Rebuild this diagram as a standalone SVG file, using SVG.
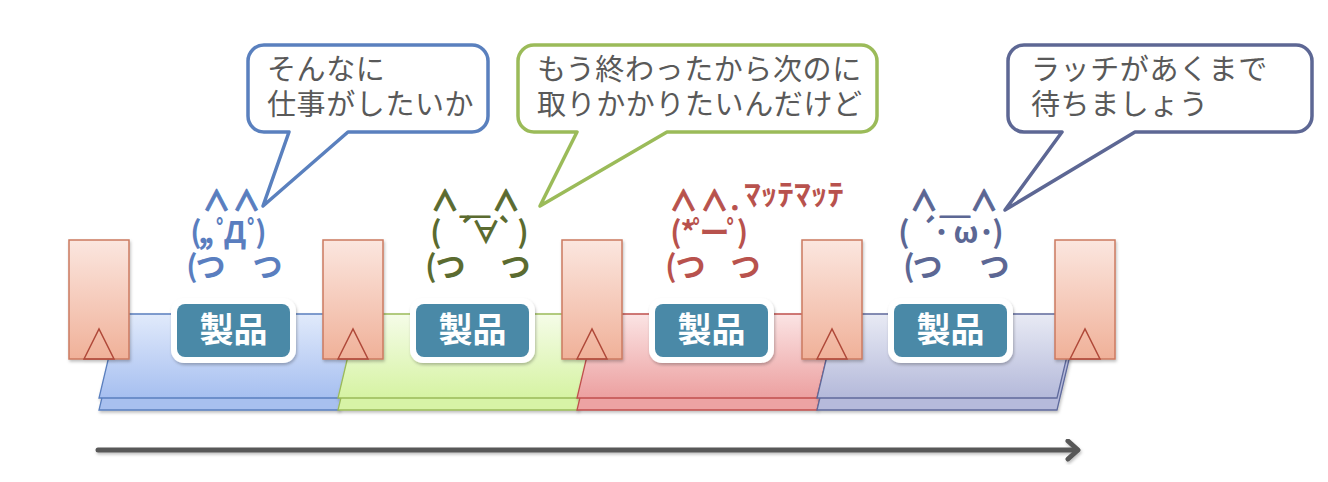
<svg xmlns="http://www.w3.org/2000/svg" width="1328" height="482" viewBox="0 0 1328 482">
<style>
.bubble{fill:#fff;stroke-width:3.5;stroke-linejoin:round}
.btxt{font-family:"Noto Sans CJK JP","Liberation Sans",sans-serif;font-size:29px;fill:#595959;letter-spacing:0.6px}
.kao{font-family:"Noto Sans CJK JP","Liberation Sans",sans-serif;font-size:30px;font-weight:bold;text-anchor:middle}
.ears{font-size:28px;stroke-width:1;stroke-linejoin:round}
.us{font-size:30px}
.latch{stroke:#cc7a60;stroke-width:1.5;fill:url(#gLatch)}
.tri{fill:none;stroke:#b04a3a;stroke-width:1.5}
.prodO{fill:#fff}
.prodI{fill:#4a89a7}
.ptxt{font-family:"Noto Sans CJK JP","Liberation Sans",sans-serif;font-size:34px;font-weight:bold;fill:#fff;text-anchor:middle}
</style>
<defs>
<linearGradient id="gLatch" x1="0" y1="0" x2="0" y2="1"><stop offset="0" stop-color="#fbe6df"/><stop offset="1" stop-color="#f0b199"/></linearGradient>
<linearGradient id="gB" x1="0" y1="0" x2="0" y2="1"><stop offset="0" stop-color="#e1eafb"/><stop offset="1" stop-color="#a6bff0"/></linearGradient>
<linearGradient id="gG" x1="0" y1="0" x2="0" y2="1"><stop offset="0" stop-color="#f5fce8"/><stop offset="1" stop-color="#d6f3a3"/></linearGradient>
<linearGradient id="gR" x1="0" y1="0" x2="0" y2="1"><stop offset="0" stop-color="#fbe4e4"/><stop offset="1" stop-color="#eca0a0"/></linearGradient>
<linearGradient id="gP" x1="0" y1="0" x2="0" y2="1"><stop offset="0" stop-color="#e8eaf4"/><stop offset="1" stop-color="#b4b9da"/></linearGradient>
<filter id="sh" x="-10%" y="-10%" width="130%" height="140%"><feDropShadow dx="1" dy="2" stdDeviation="1.5" flood-color="#000" flood-opacity="0.25"/></filter>
</defs>
<rect width="1328" height="482" fill="#fff"/>

<g id="stage1" filter="url(#sh)">
<polygon points="119,326 359,326 339,410 99,410" fill="#a8c0ef" stroke="#5a7fbe" stroke-width="1.3"/>
<polygon points="119,314 359,314 339,398 99,398" fill="url(#gB)" stroke="#5a7fbe" stroke-width="1.3"/>
</g>
<g id="stage2" filter="url(#sh)">
<polygon points="358,326 598,326 578,410 338,410" fill="#d7f3a6" stroke="#9bbb59" stroke-width="1.3"/>
<polygon points="358,314 598,314 578,398 338,398" fill="url(#gG)" stroke="#9bbb59" stroke-width="1.3"/>
</g>
<g id="stage3" filter="url(#sh)">
<polygon points="597,326 837,326 817,410 577,410" fill="#eda3a3" stroke="#c0504d" stroke-width="1.3"/>
<polygon points="597,314 837,314 817,398 577,398" fill="url(#gR)" stroke="#c0504d" stroke-width="1.3"/>
</g>
<g id="stage4" filter="url(#sh)">
<polygon points="837,326 1077,326 1057,410 817,410" fill="#b6badb" stroke="#5f6a9c" stroke-width="1.3"/>
<polygon points="837,314 1077,314 1057,398 817,398" fill="url(#gP)" stroke="#5f6a9c" stroke-width="1.3"/>
</g>

<g id="latch1" filter="url(#sh)"><rect class="latch" x="69" y="240" width="60" height="119"/><polygon class="tri" points="84,359 99,329 114,359"/></g>
<g id="latch2" filter="url(#sh)"><rect class="latch" x="323" y="240" width="60" height="119"/><polygon class="tri" points="338,359 353,329 368,359"/></g>
<g id="latch3" filter="url(#sh)"><rect class="latch" x="562" y="240" width="60" height="119"/><polygon class="tri" points="577,359 592,329 607,359"/></g>
<g id="latch4" filter="url(#sh)"><rect class="latch" x="802" y="240" width="60" height="119"/><polygon class="tri" points="817,359 832,329 847,359"/></g>
<g id="latch5" filter="url(#sh)"><rect class="latch" x="1055" y="240" width="60" height="119"/><polygon class="tri" points="1070,359 1085,329 1100,359"/></g>

<g id="product1"><rect class="prodO" x="171" y="298" width="125" height="65" rx="13" filter="url(#sh)"/><rect class="prodI" x="177" y="304" width="113" height="53" rx="8"/><text class="ptxt" x="233.5" y="342">製品</text></g>
<g id="product2"><rect class="prodO" x="410" y="298" width="125" height="65" rx="13" filter="url(#sh)"/><rect class="prodI" x="416" y="304" width="113" height="53" rx="8"/><text class="ptxt" x="472.5" y="342">製品</text></g>
<g id="product3"><rect class="prodO" x="649" y="298" width="125" height="65" rx="13" filter="url(#sh)"/><rect class="prodI" x="655" y="304" width="113" height="53" rx="8"/><text class="ptxt" x="711.5" y="342">製品</text></g>
<g id="product4"><rect class="prodO" x="888" y="298" width="125" height="65" rx="13" filter="url(#sh)"/><rect class="prodI" x="894" y="304" width="113" height="53" rx="8"/><text class="ptxt" x="950.5" y="342">製品</text></g>

<g id="kao1" class="kao" fill="#5a7ebf">
<text class="ears" stroke="#5a7ebf" x="216.5 246.5" y="211">∧∧</text>
<text x="196 203 209 223.5 235 254.5 261" y="243">(,,ﾟДﾟ)</text>
<text x="192 210.5 240 267.5" y="277">(つ　つ</text>
</g>
<g id="kao2" class="kao" fill="#5b6b30">
<text class="ears" stroke="#5b6b30" x="445" y="211">∧<tspan class="us" x="475" y="213">＿</tspan><tspan x="506" y="211">∧</tspan></text>
<text x="436 450 465 486 506 523" y="243">(　´∀`)</text>
<text x="431 450.5 483 515.5" y="277">(つ　つ</text>
</g>
<g id="kao3" class="kao" fill="#b8524d">
<text class="ears" stroke="#b8524d" x="683.5 714.5" y="211">∧∧<tspan x="735" y="210" style="font-size:24px">.</tspan></text>
<text x="744" y="205" font-size="30" font-weight="bold" text-anchor="start" textLength="100" lengthAdjust="spacingAndGlyphs">ﾏｯﾃﾏｯﾃ</text>
<text x="676 688 700 714.5 734 742.5" y="243">(*ﾟーﾟ)</text>
<text x="671 690.5 718 745.5" y="277">(つ　つ</text>
</g>
<g id="kao4" class="kao" fill="#5c6794">
<text class="ears" stroke="#5c6794" x="924" y="211">∧<tspan class="us" x="955" y="213">＿</tspan><tspan x="984" y="211">∧</tspan></text>
<text x="904 915 928.5 941.5 966 986.5 998" y="243">(　´･ω･)</text>
<text x="909 927.5 961 994.5" y="277">(つ　つ</text>
</g>

<g id="bubble1">
<path class="bubble" stroke="#5a80be" d="M264,45 H472 A16,16 0 0 1 488,61 V116 A16,16 0 0 1 472,132 H348 L263,206 L289,132 H264 A16,16 0 0 1 248,116 V61 A16,16 0 0 1 264,45 Z"/>
<text class="btxt" x="267" y="80">そんなに</text>
<text class="btxt" x="267" y="115">仕事がしたいか</text>
</g>
<g id="bubble2">
<path class="bubble" stroke="#9bbb59" d="M534,45 H861 A16,16 0 0 1 877,61 V116 A16,16 0 0 1 861,132 H667 L540,206 L577,132 H534 A16,16 0 0 1 518,116 V61 A16,16 0 0 1 534,45 Z"/>
<text class="btxt" x="537" y="80">もう終わったから次のに</text>
<text class="btxt" x="537" y="115">取りかかりたいんだけど</text>
</g>
<g id="bubble3">
<path class="bubble" stroke="#5d6794" d="M1024,45 H1296 A16,16 0 0 1 1312,61 V116 A16,16 0 0 1 1296,132 H1135 L1005,210 L1062,132 H1024 A16,16 0 0 1 1008,116 V61 A16,16 0 0 1 1024,45 Z"/>
<text class="btxt" x="1031" y="80">ラッチがあくまで</text>
<text class="btxt" x="1031" y="115">待ちましょう</text>
</g>

<g id="connectors" filter="url(#sh)" fill="none" stroke="#595959" stroke-width="5" stroke-linecap="round" stroke-linejoin="round">
<line x1="98" y1="450" x2="1077" y2="450"/>
<polyline points="1068,441 1078,450 1068,459"/>
</g>
</svg>
